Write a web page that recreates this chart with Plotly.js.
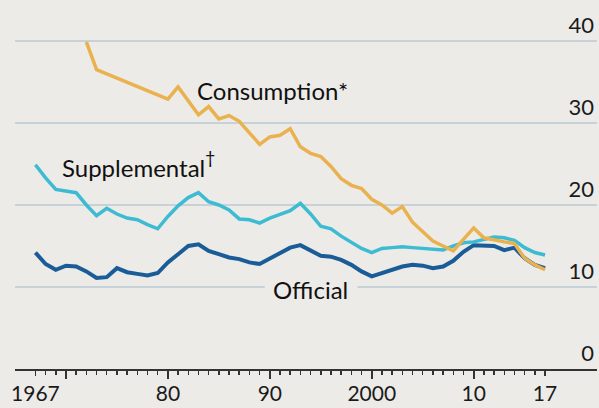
<!DOCTYPE html>
<html>
<head>
<meta charset="utf-8">
<script src="https://cdn.plot.ly/plotly-3.0.1.min.js"></script>
<style>html,body{margin:0;padding:0;background:#ecebe7;}#chart{width:599px;height:408px;}</style>
</head>
<body>
<div id="chart"></div>
<script>
const years = [];
for (let y = 1967; y <= 2017; y++) years.push(y);

const official = [14.2,12.8,12.1,12.6,12.5,11.9,11.1,11.2,12.3,11.8,11.6,11.4,11.7,13.0,14.0,15.0,15.2,14.4,14.0,13.6,13.4,13.0,12.8,13.5,14.2,14.8,15.1,14.5,13.8,13.7,13.3,12.7,11.9,11.3,11.7,12.1,12.5,12.7,12.6,12.3,12.5,13.2,14.3,15.1,15.0,15.0,14.5,14.8,13.5,12.7,12.3];

const supplemental = [24.9,23.3,21.9,21.7,21.5,20.0,18.7,19.6,18.9,18.4,18.2,17.6,17.1,18.6,19.9,20.9,21.5,20.4,20.0,19.4,18.3,18.2,17.8,18.4,18.8,19.3,20.2,18.9,17.4,17.1,16.2,15.5,14.7,14.2,14.7,14.8,14.9,14.8,14.7,14.6,14.5,15.0,15.4,15.5,15.8,16.1,16.0,15.7,14.8,14.2,13.9];

const consYears = years.filter(y => y >= 1972);
const consumption = [39.9,36.5,36.0,35.5,35.0,34.5,34.0,33.5,32.9,34.4,32.7,31.0,32.0,30.5,30.9,30.2,28.8,27.4,28.3,28.5,29.3,27.1,26.3,25.9,24.7,23.2,22.4,22.0,20.7,20.0,19.0,19.8,17.9,16.8,15.6,15.0,14.4,15.8,17.2,16.0,15.7,15.5,15.3,13.5,12.7,12.1];

const labelYears = [1967,1980,1990,2000,2010,2017];
const labelText = ['1967','80','90','2000','10','17'];
const decadeYears = [1970,1980,1990,2000,2010];
const yTicks = [0,10,20,30,40];

const bg = '#ecebe7';
const font = 'Lato, "Open Sans", sans-serif';
const xr = [1965, 2022.1];

const traces = [
  {x: years, y: official, type: 'scatter', mode: 'lines', line: {color: '#1a5c98', width: 4}, hoverinfo: 'skip'},
  {x: years, y: supplemental, type: 'scatter', mode: 'lines', line: {color: '#3dbbd3', width: 3.5}, hoverinfo: 'skip'},
  {x: consYears, y: consumption, type: 'scatter', mode: 'lines', line: {color: '#e9b24f', width: 3.5}, hoverinfo: 'skip'},
  {x: [xr[0]], y: [0], xaxis: 'x2', yaxis: 'y', type: 'scatter', mode: 'markers', marker: {opacity: 0}, hoverinfo: 'skip'},
  {x: [xr[0]], y: [0], xaxis: 'x3', yaxis: 'y', type: 'scatter', mode: 'markers', marker: {opacity: 0}, hoverinfo: 'skip'}
];

const layout = {
  width: 599, height: 408,
  margin: {l: 15, r: 2, t: 8, b: 39},
  paper_bgcolor: bg, plot_bgcolor: bg,
  showlegend: false,
  font: {family: font, color: '#1a1a1a'},
  xaxis: {
    range: xr,
    tickvals: labelYears,
    ticktext: labelText,
    ticks: 'outside', ticklen: 5, tickwidth: 1.5, tickcolor: '#333',
    showgrid: false, zeroline: false,
    showline: true, linecolor: '#333', linewidth: 2,
    tickfont: {family: font, size: 21, color: '#1a1a1a'},
    fixedrange: true
  },
  xaxis2: {
    overlaying: 'x', anchor: 'y', side: 'bottom',
    range: xr,
    tickvals: years,
    showticklabels: false,
    ticks: 'outside', ticklen: 5, tickwidth: 1.5, tickcolor: '#333',
    showgrid: false, zeroline: false, showline: false
  },
  xaxis3: {
    overlaying: 'x', anchor: 'y', side: 'bottom',
    range: xr,
    tickvals: decadeYears,
    showticklabels: false,
    ticks: 'outside', ticklen: 9, tickwidth: 2, tickcolor: '#333',
    showgrid: false, zeroline: false, showline: false
  },
  yaxis: {
    range: [0, 44.02],
    side: 'right',
    tickvals: yTicks,
    ticktext: yTicks.map(String),
    ticklabelposition: 'inside top',
    ticks: '',
    showgrid: true, gridcolor: '#c7d2d8', gridwidth: 2,
    zeroline: false, showline: false,
    tickfont: {family: font, size: 22, color: '#1a1a1a'},
    fixedrange: true
  },
  shapes: [
    {type: 'rect', xref: 'x', yref: 'y', x0: 1989.5, x1: 1998.6, y0: 8.6, y1: 11.2, fillcolor: bg, line: {width: 0}, layer: 'above'}
  ],
  annotations: [
    {x: 1990.25, y: 34.0, xref: 'x', yref: 'y', text: 'Consumption*', showarrow: false, font: {family: font, size: 24, color: '#111'}},
    {x: 1983.8, y: 24.6, xref: 'x', yref: 'y', xanchor: 'right', text: 'Supplemental', showarrow: false, font: {family: font, size: 24, color: '#111'}},
    {x: 1983.4, y: 25.9, xref: 'x', yref: 'y', xanchor: 'left', text: '†', showarrow: false, font: {family: font, size: 18, color: '#111'}},
    {x: 1994.0, y: 9.75, xref: 'x', yref: 'y', text: 'Official', showarrow: false, font: {family: font, size: 24, color: '#111'}}
  ]
};

Plotly.newPlot('chart', traces, layout, {displayModeBar: false, staticPlot: true});
</script>
</body>
</html>
